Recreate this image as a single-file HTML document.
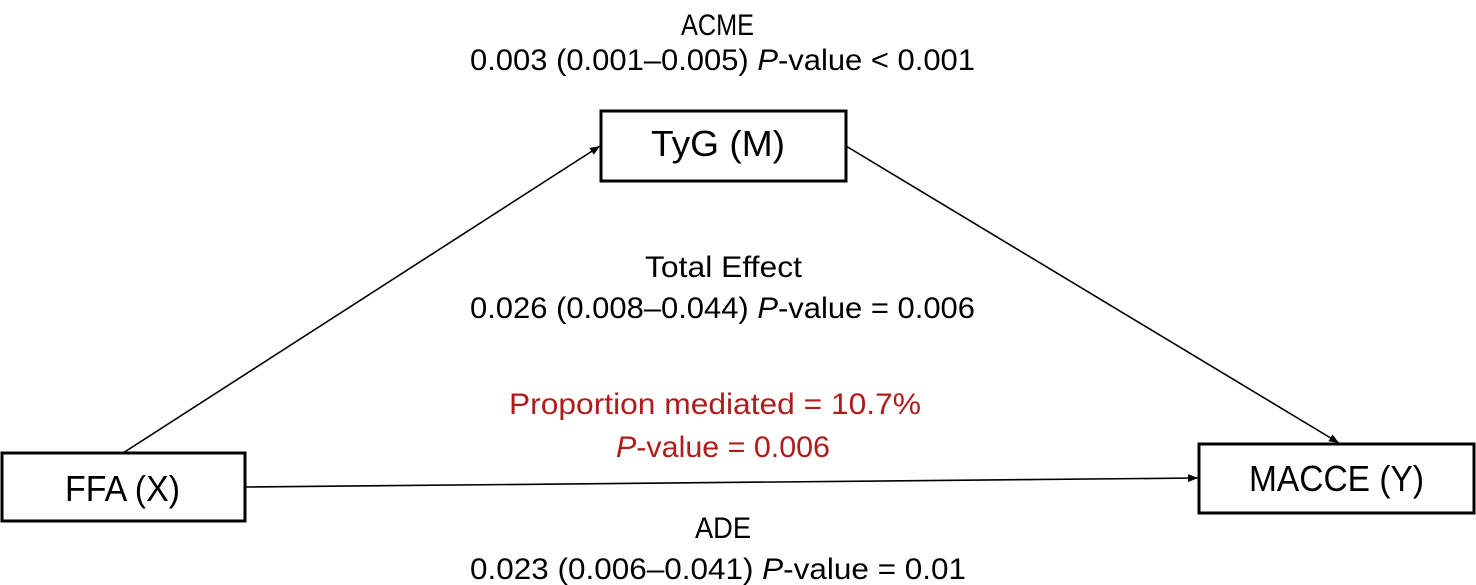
<!DOCTYPE html>
<html><head><meta charset="utf-8"><style>html,body{margin:0;padding:0;background:#fff}svg{display:block}</style></head>
<body>
<svg width="1476" height="585" viewBox="0 0 1476 585" xmlns="http://www.w3.org/2000/svg" font-family="Liberation Sans, sans-serif">
<defs><marker id="a" markerWidth="10" markerHeight="8" refX="10" refY="4" orient="auto" markerUnits="userSpaceOnUse"><path d="M0,0 L10,4 L0,8 z" fill="#000"/></marker></defs>
<g stroke="#000" stroke-width="1.6" fill="none">
<line x1="123" y1="453" x2="600" y2="146" marker-end="url(#a)"/>
<line x1="846" y1="146" x2="1339" y2="443" marker-end="url(#a)"/>
<line x1="245" y1="487" x2="1198" y2="478" marker-end="url(#a)"/>
</g>
<g stroke="#000" stroke-width="3" fill="#fff">
<rect x="2" y="453" width="243" height="68"/>
<rect x="601" y="111" width="245" height="70"/>
<rect x="1199" y="444" width="275" height="69"/>
</g>
<g font-size="36" fill="#000">
<text x="65" y="501" textLength="115" lengthAdjust="spacingAndGlyphs">FFA (X)</text>
<text x="651" y="156" textLength="134" lengthAdjust="spacingAndGlyphs">TyG (M)</text>
<text x="1249" y="491" textLength="175" lengthAdjust="spacingAndGlyphs">MACCE (Y)</text>
</g>
<g font-size="30" fill="#000">
<text x="681" y="35" textLength="73" lengthAdjust="spacingAndGlyphs">ACME</text>
<text x="470" y="70" textLength="505" lengthAdjust="spacingAndGlyphs">0.003 (0.001–0.005) <tspan font-style="italic">P</tspan>-value &lt; 0.001</text>
<text x="645" y="277" textLength="157" lengthAdjust="spacingAndGlyphs">Total Effect</text>
<text x="470" y="318" textLength="505" lengthAdjust="spacingAndGlyphs">0.026 (0.008–0.044) <tspan font-style="italic">P</tspan>-value = 0.006</text>
<text x="509" y="414" fill="#b01c1c" textLength="412" lengthAdjust="spacingAndGlyphs">Proportion mediated = 10.7%</text>
<text x="616" y="457" fill="#b01c1c" textLength="214" lengthAdjust="spacingAndGlyphs"><tspan font-style="italic">P</tspan>-value = 0.006</text>
<text x="695" y="538" textLength="56" lengthAdjust="spacingAndGlyphs">ADE</text>
<text x="470" y="579" textLength="496" lengthAdjust="spacingAndGlyphs">0.023 (0.006–0.041) <tspan font-style="italic">P</tspan>-value = 0.01</text>
</g>
</svg>
</body></html>
